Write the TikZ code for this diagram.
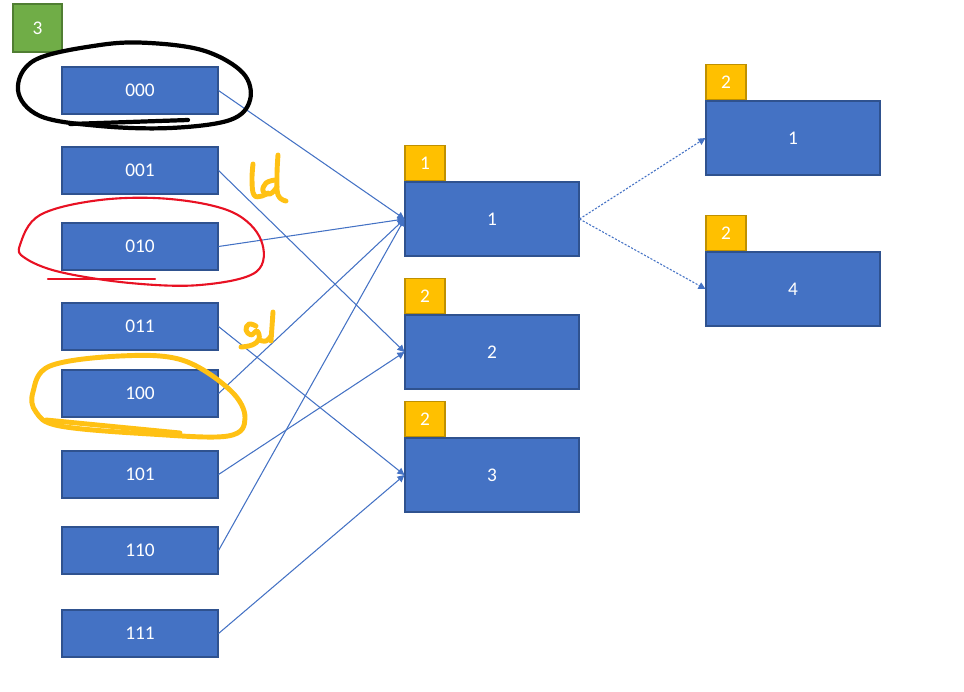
\documentclass[tikz,border=0pt]{standalone}
\usepackage{fontspec}
\setmainfont{Carlito}
\usetikzlibrary{positioning, arrows.meta}

\definecolor{boxblue}{HTML}{4472C4}
\definecolor{boxedge}{HTML}{2F528F}
\definecolor{tagyellow}{HTML}{FFC000}
\definecolor{tagedge}{HTML}{BF9000}
\definecolor{depthgreen}{HTML}{70AD47}
\definecolor{greenedge}{HTML}{507E32}
\definecolor{penred}{HTML}{E81123}
\definecolor{penorange}{HTML}{FFC114}

\begin{document}
\begin{tikzpicture}[
    x=0.02cm, y=-0.02cm,
    % ====================
    % ESTILOS DE NODOS
    % ====================
    slot/.style={
        rectangle, draw=boxedge, fill=boxblue, line width=0.6pt,
        text=white, font=\fontsize{11}{13}\selectfont,
        minimum width=3.12cm, minimum height=0.94cm, inner sep=0pt
    },
    bucket/.style={
        slot, minimum width=3.48cm, minimum height=1.48cm
    },
    depth/.style={
        rectangle, draw=tagedge, fill=tagyellow, line width=0.6pt,
        text=white, font=\fontsize{11}{13}\selectfont,
        minimum width=0.8cm, minimum height=0.7cm, inner sep=0pt
    },
    global/.style={
        depth, draw=greenedge, fill=depthgreen,
        minimum width=0.98cm, minimum height=0.96cm
    },
    link/.style={
        draw=boxblue, line width=0.6pt, -{Triangle[length=4pt, width=4pt]}
    },
    splitlink/.style={
        link, dash pattern=on 1.2pt off 0.9pt
    },
    pen/.style={
        line width=#1, line cap=round, line join=round
    }
]

\useasboundingbox (0,0) rectangle (964,691);

% ====================
% PROFUNDIDAD GLOBAL
% ====================
\node[global] (gd) at (37.5,28) {3};

% ====================
% DIRECTORIO (x = 140)
% ====================
\node[slot] (d000) at (140,90.5) {000};
\node[slot] (d001) at (140,170.5) {001};
\node[slot] (d010) at (140,246.5) {010};
\node[slot] (d011) at (140,326.5) {011};
\node[slot] (d100) at (140,393.5) {100};
\node[slot] (d101) at (140,474.5) {101};
\node[slot] (d110) at (140,550.5) {110};
\node[slot] (d111) at (140,633.5) {111};

% ====================
% CUBETAS (x = 492)
% ====================
\node[bucket] (b1) at (492,219) {1};
\node[bucket] (b2) at (492,352) {2};
\node[bucket] (b3) at (492,475) {3};

\node[depth, anchor=south west] (t1) at (b1.north west) {1};
\node[depth, anchor=south west] (t2) at (b2.north west) {2};
\node[depth, anchor=south west] (t3) at (b3.north west) {2};

% Cubetas tras la division (x = 793)
\node[bucket] (s1) at (793,138) {1};
\node[bucket] (s4) at (793,289) {4};

\node[depth, anchor=south west] (u1) at (s1.north west) {2};
\node[depth, anchor=south west] (u4) at (s4.north west) {2};

% ====================
% PUNTEROS
% ====================
\draw[link] (d000.east) -- (b1.west);
\draw[link] (d001.east) -- (b2.west);
\draw[link] (d010.east) -- (b1.west);
\draw[link] (d011.east) -- (b3.west);
\draw[link] (d100.east) -- (b1.west);
\draw[link] (d101.east) -- (b2.west);
\draw[link] (d110.east) -- (b1.west);
\draw[link] (d111.east) -- (b3.west);

% Division de la cubeta 1
\draw[splitlink] (b1.east) -- (s1.west);
\draw[splitlink] (b1.east) -- (s4.west);

% ====================
% ANOTACIONES A MANO
% ====================
% negro: 000
\draw[pen=2.4pt, black] plot[smooth cycle, tension=0.6] coordinates {
    (18,90) (35,60) (100,45) (150,43) (205,51) (243,73) (250,100)
    (230,120) (170,128) (100,126) (40,116)};
\draw[pen=2.4pt, black] (70,124) -- (188,120);

% rojo: 010
\draw[pen=1.2pt, penred] plot[smooth cycle, tension=0.6] coordinates {
    (20,245) (40,215) (100,200) (170,199) (232,212) (261,240) (256,272)
    (200,285) (130,283) (60,272) (25,258)};
\draw[pen=1.2pt, penred] (48,279) -- (155,279);

% naranja: 100
\draw[pen=2.8pt, penorange] plot[smooth cycle, tension=0.6] coordinates {
    (33,392) (50,366) (120,356) (182,360) (230,390) (245,418)
    (228,436) (150,434) (60,426) (36,412)};
\draw[pen=2.8pt, penorange] (46,420) -- (180,433);

% naranja: trazos sueltos
\draw[pen=2.8pt, penorange] plot[smooth, tension=0.7] coordinates {
    (253,164) (252,180) (254,195) (262,196) (268,193)};
\draw[pen=2.8pt, penorange] plot[smooth, tension=0.7] coordinates {
    (275,180) (266,183) (263,191) (270,194) (277,187)};
\draw[pen=2.8pt, penorange] plot[smooth, tension=0.7] coordinates {
    (278,155) (277,175) (278,195) (286,201)};
\draw[pen=2.8pt, penorange] plot[smooth, tension=0.7] coordinates {
    (256,326) (249,324) (246,330) (251,335) (257,331) (259,339)
    (252,345) (241,347)};
\draw[pen=2.8pt, penorange] plot[smooth, tension=0.7] coordinates {
    (259,340) (266,341) (271,336)};
\draw[pen=2.8pt, penorange] (273,312) -- (271,341);

\end{tikzpicture}
\end{document}
